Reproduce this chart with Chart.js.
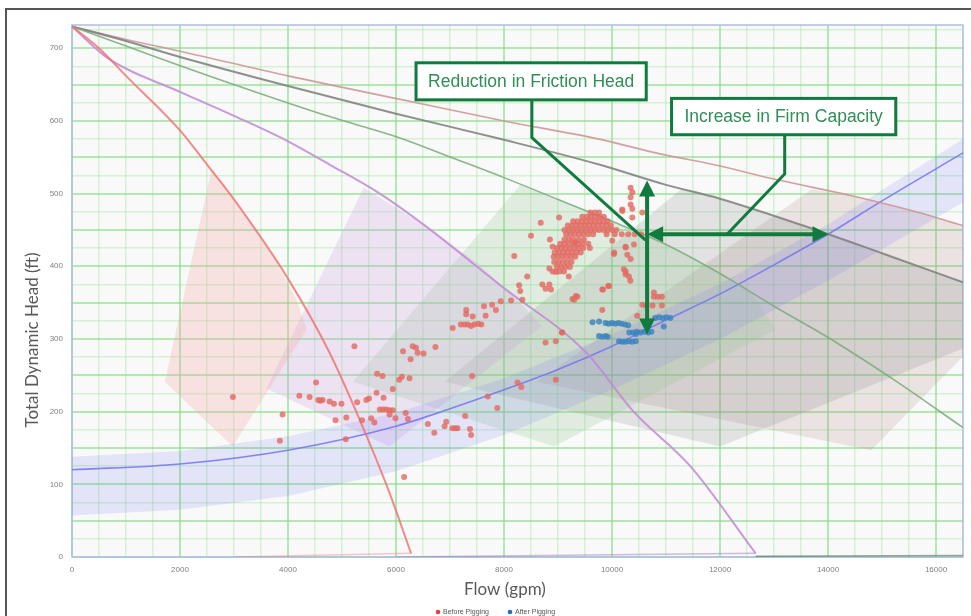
<!DOCTYPE html>
<html>
<head>
<meta charset="utf-8">
<script src="https://cdn.jsdelivr.net/npm/chart.js@4.4.1/dist/chart.umd.min.js"></script>
<style>
  html, body { margin: 0; padding: 0; background: #fff; }
  #wrap { position: relative; width: 971px; height: 616px; overflow: hidden; }
  #frame { position: absolute; left: 5px; top: 8px; width: 1100px; height: 800px; border-left: 2px solid #555; border-top: 2px solid #555; }
  canvas { position: absolute; left: 0; top: 0; }
</style>
</head>
<body>
<div id="wrap"><div id="frame"></div><canvas id="chart" width="971" height="616"></canvas></div>
<script>
// Curvas de bombas (1 a 5 en paralelo), curva del sistema y lecturas antes / después del pigging.

const xTickLabels = [0, 2000, 4000, 6000, 8000, 10000, 12000, 14000, 16000];
const yTickLabels = [0, 100, 200, 300, 400, 500, 600, 700];

// [flow gpm, head ft]
const pump1 = [[0,730],[500,700],[1000,662],[2000,587],[2500,540],[3000,492],[4000,383],[4770,281],[5350,185],[5840,96],[6280,5]];
const pump2 = [[0,730],[670,686],[2000,640],[3000,607],[4000,572],[4770,540],[5700,500],[6500,458],[8000,370],[9500,283],[10400,200],[11450,125],[12660,5]];
const pump3 = [[0,730],[1000,703],[2500,663],[4770,606],[6060,577],[7050,549],[8000,522],[9000,492],[10000,462],[11000,430],[12000,390],[13000,345],[14070,299],[15300,240],[16500,178]];
const pump4 = [[0,730],[1000,710],[2000,688],[4000,648],[6000,610],[8000,574],[9760,540],[11000,512],[12000,493],[13700,452],[15000,418],[16500,378]];
const pump5 = [[0,730],[1000,712],[2000,696],[4000,662],[6060,630],[8000,600],[9760,575],[10870,555],[12000,538],[13000,520],[14500,496],[15680,474],[16500,456]];
const pump1Base = [[3000,0],[6280,5]];
const pump2Base = [[6000,0],[12660,5]];
const pump3Base = [[12660,1],[16500,2]];

const systemCurve = [[0,120],[2000,128],[4000,147],[6000,180],[7000,204],[8000,230],[9000,258],[10000,290],[11000,326],[12000,362],[13000,402],[14000,444],[15000,490],[16500,556]];
const systemUpper = [[0,138],[2000,146],[4000,166],[6000,198],[8000,246],[10000,306],[12000,376],[14000,458],[16500,575]];
const systemLower = [[0,57],[2000,65],[4000,84],[6000,118],[8000,168],[10000,230],[12000,300],[14000,380],[16500,488]];

const region1 = [[1719,241],[2588,534],[3198,472],[3752,410],[4159,354],[4344,313],[2976,152]];
const region2 = [[3600,232],[5400,508],[6500,458],[7500,405],[8300,350],[8700,318],[5880,152]];
const region3 = [[5200,241],[8300,512],[9000,492],[10000,462],[11000,430],[12000,390],[12600,362],[13030,313],[8930,152]];
const region4 = [[6900,241],[11300,507],[12000,493],[13700,452],[15000,418],[16500,378],[16500,287],[12000,152]];
const region5 = [[8600,241],[13700,506],[14500,496],[15680,474],[16500,456],[16500,276],[14800,147]];

const beforePigging = [
  [2980,220],[3850,160],[3900,196],[4210,222],[4400,220],[4520,240],[4560,216],[4600,215],[4640,216],[4770,214],
  [4850,211],[4990,211],[4880,188],[5080,192],[5070,162],[5230,290],[5280,213],[5370,188],[5450,216],[5500,218],
  [5540,191],[5600,185],[5640,226],[5650,252],[5750,249],[5770,219],[5700,203],[5760,203],[5820,203],[5880,202],
  [5940,202],[5880,196],[5940,231],[5990,191],[6060,244],[6110,248],[6250,246],[6130,283],[6270,272],[6310,290],
  [6370,288],[6400,281],[6510,280],[6730,289],[6180,198],[6220,190],[6150,110],[6590,183],[6710,171],[6900,180],
  [6930,186],[7045,177],[7100,177],[7140,177],[7280,194],[7370,176],[7390,168],[7410,249],[7700,221],[7875,205],
  [8250,240],[8320,234],[8960,244],
  [7050,315],[7200,320],[7270,320],[7330,320],[7390,318],[7450,320],[7520,321],[7580,320],[7300,334],[7420,331],
  [7300,340],[7660,332],[7630,345],[7850,340],[7780,347],[7940,352],[8130,353],[8340,354],[8300,366],[8280,374],
  [8430,386],[8190,414],[8500,442],[8680,460],[9020,467],[8710,375],[8840,375],[8870,368],[8770,369],[8840,397],
  [8900,393],[8960,392],[8960,297],[8770,295],[9080,309],[9330,359],[9300,354],[9200,386],[9320,433],[8850,437],
  [8900,427],[9820,368],[9930,373],[9820,340],[10040,419],[10220,396],[10250,389],[10190,478],[10250,427],
  [10345,508],[10376,502],[10345,495],[10345,485],[10376,479],[10191,476],[10561,474],[10376,467],[10006,435],[10253,426],
  [10407,430],[10037,417],[10284,416],[10345,410],[10253,393],[10314,386],[10340,380],[9945,373],[9834,368],[10776,364],
  [10776,358],[10850,358],[10924,358],[10561,347],[10628,346],[10750,346],[10924,346],[10468,332],[9070,309],[9267,355],
  [9360,358],
  [9600,474],[9680,474],[9760,474],
  [9450,468],[9530,468],[9610,468],[9690,468],[9770,468],[9850,468],
  [9280,462],[9360,462],[9440,462],[9520,462],[9600,462],[9680,462],[9760,462],[9840,462],[9920,462],
  [9180,456],[9260,456],[9340,456],[9420,456],[9500,456],[9580,456],[9660,456],[9740,456],[9820,456],[9900,456],[9980,456],
  [9120,450],[9200,450],[9280,450],[9360,450],[9440,450],[9520,450],[9600,450],[9680,450],[9760,450],[9840,450],[9920,450],[10000,450],[10080,450],
  [9150,444],[9230,444],[9310,444],[9390,444],[9470,444],[9560,444],[9650,444],[9900,444],[10050,444],[10180,444],[10300,444],[10420,444],[10540,444],
  [9120,437],[9200,437],[9280,437],[9380,437],[9480,437],
  [9040,431],[9120,431],[9200,431],[9290,431],[9380,431],[9460,431],[9560,431],
  [8980,425],[9060,425],[9140,425],[9220,425],[9300,425],[9380,425],[9470,425],[9590,425],
  [8940,419],[9020,419],[9100,419],[9180,419],[9260,419],[9340,419],[9420,419],
  [8920,413],[9000,413],[9080,413],[9160,413],[9240,413],[9320,413],
  [8930,406],[9010,406],[9090,406],[9170,406],[9250,406],
  [8980,399],[9060,399],[9140,399],[9220,399],
  [9030,393],[9110,393]
];

const afterPigging = [
  [9640,323],[9760,324],[9880,322],[9940,321],[10000,322],[10060,321],[10120,322],[10180,321],[10240,320],[10300,319],
  [9760,304],[9820,303],[9880,304],[9920,303],
  [10130,297],[10190,296],[10250,296],[10310,297],[10370,296],[10440,297],
  [10320,309],[10390,309],[10460,310],[10530,309],[10600,310],[10670,309],[10730,310],
  [10800,329],[10870,330],[10940,329],[11010,330],[11080,329],
  [10960,317],[10440,307]
];

// Anotaciones (en unidades de datos)
const frictionArrow = { flow: 10650, from: 306, to: 518 };
const capacityArrow = { head: 444, from: 10650, to: 14010 };
const frictionBox = { x0: 6371, x1: 10634, y0: 680, y1: 629, text: "Reduction in Friction Head" };
const frictionLeader = [[8516, 629], [8516, 577], [10620, 436]];
const capacityBox = { x0: 11103, x1: 15255, y0: 631, y1: 581, text: "Increase in Firm Capacity" };
const capacityLeader = [[13198, 581], [13198, 527], [12131, 444]];

const GREEN = "#117a3d";
const TEXT_GREEN = "#2f8f56";
const pts = (arr) => arr.map(([x, y]) => ({ x, y }));

function curve(data, color, width, order = 1) {
  return { data: pts(data), showLine: true, borderColor: color, borderWidth: width, pointRadius: 0,
    cubicInterpolationMode: "monotone", fill: false, order };
}
function baseLine(data, color) {
  return { data: pts(data), showLine: true, borderColor: color, borderWidth: 1.5, pointRadius: 0, tension: 0, fill: false, order: 1 };
}
function region(data, color, order = 3) {
  return { data: pts(data), showLine: true, borderColor: "rgba(0,0,0,0)", borderWidth: 1, pointRadius: 0,
    tension: 0, backgroundColor: color, fill: "shape", order };
}

const band = systemUpper.concat(systemLower.slice().reverse());

function arrowHead(ctx, x, y, ang, len, half) {
  const c = Math.cos(ang), s = Math.sin(ang);
  ctx.beginPath();
  ctx.moveTo(x, y);
  ctx.lineTo(x - len * c - half * s, y - len * s + half * c);
  ctx.lineTo(x - len * c + half * s, y - len * s - half * c);
  ctx.closePath();
  ctx.fill();
}

function drawBox(ctx, sx, sy, b) {
  const x0 = sx(b.x0), x1 = sx(b.x1), y0 = sy(b.y0), y1 = sy(b.y1);
  ctx.fillStyle = "#fff";
  ctx.fillRect(x0, y0, x1 - x0, y1 - y0);
  ctx.strokeStyle = GREEN;
  ctx.lineWidth = 3;
  ctx.strokeRect(x0, y0, x1 - x0, y1 - y0);
  ctx.fillStyle = TEXT_GREEN;
  ctx.font = '17.5px "Liberation Sans", Arial, sans-serif';
  ctx.textAlign = "center";
  ctx.textBaseline = "middle";
  ctx.fillText(b.text, (x0 + x1) / 2, (y0 + y1) / 2 + 1);
}

function drawPath(ctx, sx, sy, path) {
  ctx.beginPath();
  path.forEach(([x, y], i) => (i ? ctx.lineTo(sx(x), sy(y)) : ctx.moveTo(sx(x), sy(y))));
  ctx.stroke();
}

const decor = {
  id: "decor",
  beforeDraw(chart) {
    const { ctx, chartArea: a } = chart;
    ctx.save();
    ctx.fillStyle = "#f9f9f9";
    ctx.fillRect(a.left, a.top, a.right - a.left, a.bottom - a.top);
    ctx.restore();
  },
  beforeDatasetsDraw(chart) {
    const { ctx, chartArea: a } = chart;
    ctx.save();
    ctx.strokeStyle = "#aebde8";
    ctx.lineWidth = 1.5;
    ctx.strokeRect(a.left, a.top, a.right - a.left, a.bottom - a.top);
    ctx.restore();
  },
  afterDatasetsDraw(chart) {
    const { ctx } = chart;
    const sx = (v) => chart.scales.x.getPixelForValue(v);
    const sy = (v) => chart.scales.y.getPixelForValue(v);
    ctx.save();
    ctx.strokeStyle = GREEN;
    ctx.fillStyle = GREEN;
    ctx.lineJoin = "miter";
    ctx.lineWidth = 3;
    drawPath(ctx, sx, sy, frictionLeader);
    drawPath(ctx, sx, sy, capacityLeader);

    // flecha vertical (doble)
    const vx = sx(frictionArrow.flow), vTop = sy(frictionArrow.to), vBot = sy(frictionArrow.from);
    ctx.lineWidth = 4;
    ctx.beginPath(); ctx.moveTo(vx, vTop + 12); ctx.lineTo(vx, vBot - 12); ctx.stroke();
    arrowHead(ctx, vx, vTop, -Math.PI / 2, 16, 8);
    arrowHead(ctx, vx, vBot, Math.PI / 2, 16, 8);

    // flecha horizontal (doble)
    const hy = sy(capacityArrow.head), hL = sx(capacityArrow.from), hR = sx(capacityArrow.to);
    ctx.beginPath(); ctx.moveTo(hL + 12, hy); ctx.lineTo(hR - 12, hy); ctx.stroke();
    arrowHead(ctx, hL, hy, Math.PI, 16, 8);
    arrowHead(ctx, hR, hy, 0, 16, 8);

    drawBox(ctx, sx, sy, frictionBox);
    drawBox(ctx, sx, sy, capacityBox);
    ctx.restore();
  },
  afterDraw(chart) {
    const { ctx } = chart;
    ctx.save();
    ctx.fillStyle = "#595959";
    ctx.textAlign = "center";
    ctx.textBaseline = "middle";
    ctx.font = '17px Lato, "Open Sans", sans-serif';
    ctx.fillText("Flow (gpm)", 505, 590);
    ctx.translate(33, 340);
    ctx.rotate(-Math.PI / 2);
    ctx.font = '17px Lato, "Open Sans", sans-serif';
    ctx.fillText("Total Dynamic Head (ft)", 0, 0);
    ctx.restore();

    // leyenda
    ctx.save();
    ctx.font = '7px "Liberation Sans", Arial, sans-serif';
    ctx.textBaseline = "middle";
    ctx.textAlign = "left";
    const items = [["Before Pigging", "#e8403a", 438], ["After Pigging", "#1f6fc4", 510]];
    items.forEach(([label, color, x]) => {
      ctx.fillStyle = color;
      ctx.beginPath(); ctx.arc(x, 612, 2.3, 0, Math.PI * 2); ctx.fill();
      ctx.fillStyle = "#555";
      ctx.fillText(label, x + 5, 612.5);
    });
    ctx.restore();
  }
};

const majorGrid = "rgba(120,220,120,0.55)";
const minorGrid = "rgba(140,225,140,0.33)";

new Chart(document.getElementById("chart"), {
  type: "scatter",
  data: {
    datasets: [
      { label: "Before Pigging", data: pts(beforePigging), backgroundColor: "rgba(228,104,96,0.8)", borderWidth: 0, pointRadius: 3, order: 0 },
      { label: "After Pigging", data: pts(afterPigging), backgroundColor: "rgba(60,130,192,0.82)", borderWidth: 0, pointRadius: 3, order: 0 },
      curve(pump1, "rgba(240,110,110,0.8)", 2),
      curve(pump2, "rgba(195,135,215,0.85)", 2),
      curve(pump3, "rgba(120,170,120,0.85)", 1.6),
      curve(pump4, "rgba(125,125,125,0.85)", 2),
      curve(pump5, "rgba(205,145,145,0.85)", 1.6),
      curve(systemCurve, "rgba(115,115,240,0.85)", 1.6),
      baseLine(pump1Base, "rgba(240,120,120,0.4)"),
      baseLine(pump2Base, "rgba(160,110,180,0.45)"),
      baseLine(pump3Base, "rgba(80,110,80,0.6)"),
      region(band, "rgba(120,120,250,0.16)", 2),
      region(region1, "rgba(245,170,170,0.3)"),
      region(region2, "rgba(205,160,225,0.25)"),
      region(region3, "rgba(150,200,150,0.26)"),
      region(region4, "rgba(130,130,130,0.19)"),
      region(region5, "rgba(175,130,130,0.19)")
    ]
  },
  options: {
    responsive: false,
    animation: false,
    devicePixelRatio: 1,
    events: [],
    layout: { padding: { top: 25, right: 6, left: 0, bottom: 0 } },
    plugins: { legend: { display: false }, tooltip: { enabled: false } },
    scales: {
      x: {
        type: "linear", min: 0, max: 16500,
        border: { display: false },
        grid: {
          drawTicks: false,
          color: (c) => (c.tick.value % 2000 === 0 ? majorGrid : minorGrid),
          lineWidth: (c) => (c.tick.value % 2000 === 0 ? 2 : 1.5)
        },
        ticks: {
          stepSize: 500, autoSkip: false, maxRotation: 0, includeBounds: false, padding: 8,
          color: "#808080", font: { size: 8, family: '"Liberation Sans", Arial, sans-serif' },
          callback: (v) => (xTickLabels.includes(v) ? String(v) : "")
        },
        afterFit: (s) => { s.height = 59; }
      },
      y: {
        type: "linear", min: 0, max: 732,
        border: { display: false },
        grid: {
          drawTicks: false,
          color: (c) => (c.tick.value % 50 === 0 ? majorGrid : minorGrid),
          lineWidth: (c) => (c.tick.value % 50 === 0 ? 2 : 1.5)
        },
        ticks: {
          stepSize: 25, autoSkip: false, includeBounds: false, padding: 9,
          color: "#808080", font: { size: 8, family: '"Liberation Sans", Arial, sans-serif' },
          callback: (v) => (yTickLabels.includes(v) ? String(v) : "")
        },
        afterFit: (s) => { s.width = 72; }
      }
    }
  },
  plugins: [decor]
});
</script>
</body>
</html>
